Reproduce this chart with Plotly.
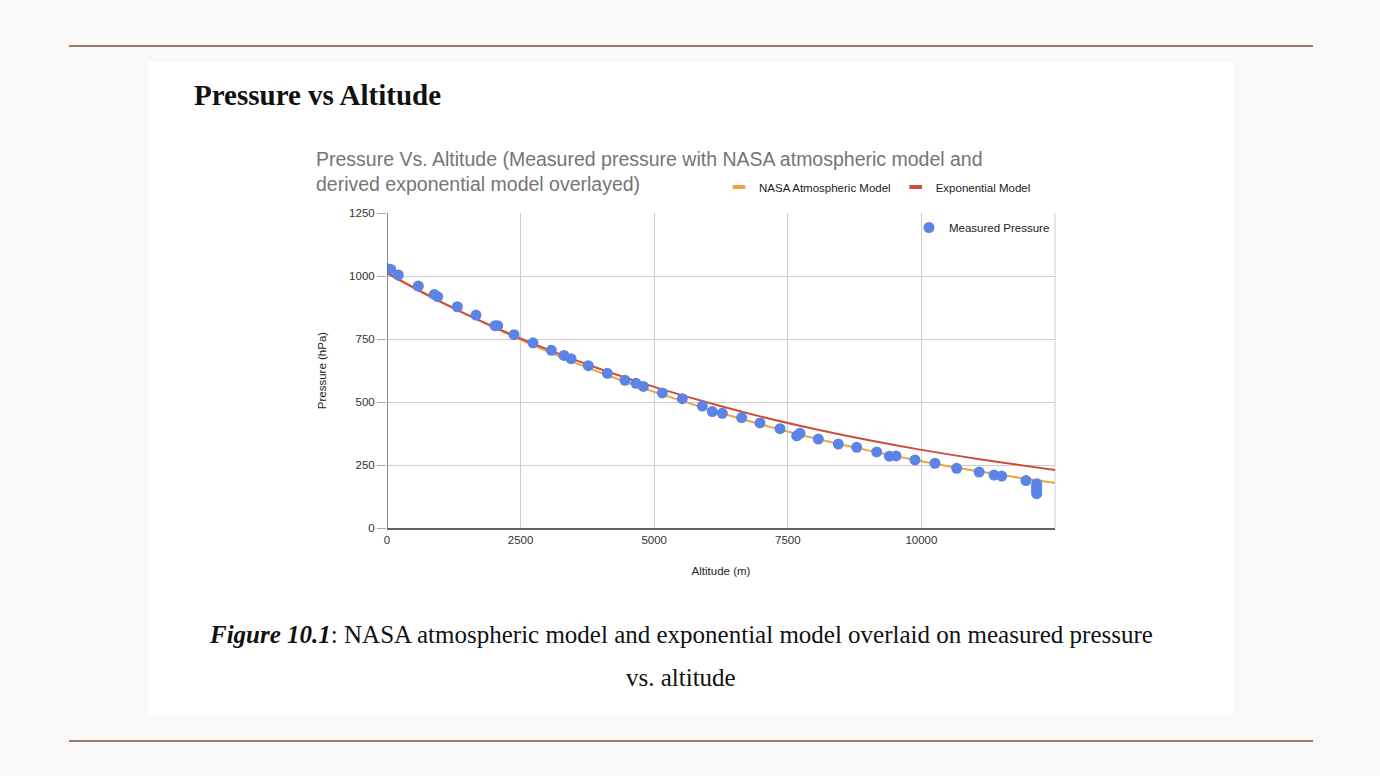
import plotly.graph_objects as go

# ---------------- data ----------------
altitude_m = [-40, 20, 70, 212, 586, 885, 948, 1316, 1665, 2021, 2071, 2377, 2732, 3075,
              3312, 3443, 3767, 4123, 4454, 4660, 4797, 5152, 5526, 5901, 6088, 6275,
              6637, 6980, 7354, 7667, 7728, 8071, 8445, 8789, 9163, 9400, 9525, 9880,
              10254, 10660, 11080, 11359, 11503, 11957, 12158, 12158, 12158, 12158,
              12158, 12158]
pressure_hpa = [1026, 1028, 1026, 1004, 960, 927, 918, 878, 845, 803, 803, 767, 735, 705,
                685, 672, 644, 614, 586, 574, 562, 536, 513, 484, 462, 455,
                438, 417, 394, 366, 376, 353, 333, 320, 302, 285, 286, 270,
                257, 237, 222, 210, 206, 188, 176, 168, 160, 152, 144, 136]

model_alt = [0, 1000, 2000, 3000, 4000, 5000, 6000, 7000, 8000, 9000, 10000, 11000,
             12000, 12500]
nasa_model = [1013, 899, 795, 701, 616, 540, 472, 411, 356, 308, 265, 227, 194, 179]
exp_model = [1010, 897, 798, 709, 630, 560, 498, 442, 393, 349, 310, 276, 245, 230]

x_ticks = [0, 2500, 5000, 7500, 10000]
x_tick_text = ["0", "2500", "5000", "7500", "10000"]
y_ticks = [0, 250, 500, 750, 1000, 1250]

# ---------------- layout helpers ----------------
FW, FH = 1380, 776
L, R, T, B = 387, 1055, 213, 528
W, H = R - L, B - T


def px(x):
    return (x - L) / W


def py(y):
    return (B - y) / H


BLUE = "#5b84e6"
ORANGE = "#eba443"
RED = "#cc4e3c"
PAGE_BG = "#f9f9f7"

fig = go.Figure()
# model curves (legend shown via swatch entries below)
fig.add_trace(go.Scatter(x=model_alt, y=nasa_model, mode="lines", name="NASA Atmospheric Model",
                         line=dict(color=ORANGE, width=2, shape="spline"), showlegend=False,
                         legendgroup="nasa"))
fig.add_trace(go.Scatter(x=model_alt, y=exp_model, mode="lines", name="Exponential Model",
                         line=dict(color=RED, width=2, shape="spline"), showlegend=False,
                         legendgroup="exp"))
# legend swatches (short thick dashes, like the reference legend)
fig.add_trace(go.Scatter(x=[None], y=[None], mode="markers", name="NASA Atmospheric Model",
                         marker=dict(symbol="line-ew", size=9, line=dict(color=ORANGE, width=4)),
                         legend="legend", legendgroup="nasa"))
fig.add_trace(go.Scatter(x=[None], y=[None], mode="markers", name="Exponential Model",
                         marker=dict(symbol="line-ew", size=9, line=dict(color=RED, width=4)),
                         legend="legend", legendgroup="exp"))
fig.add_trace(go.Scatter(x=altitude_m, y=pressure_hpa, mode="markers", name="Measured Pressure",
                         marker=dict(color=BLUE, size=11), legend="legend2"))

shapes = [
    dict(type="rect", xref="paper", yref="paper", x0=px(148), x1=px(1233), y0=py(715), y1=py(62),
         fillcolor="white", line=dict(width=0), layer="below"),
    dict(type="line", xref="paper", yref="paper", x0=px(69), x1=px(1313), y0=py(46), y1=py(46),
         line=dict(color="#9a7d68", width=2)),
    dict(type="line", xref="paper", yref="paper", x0=px(69), x1=px(1313), y0=py(741), y1=py(741),
         line=dict(color="#9a7d68", width=2)),
    dict(type="line", xref="paper", yref="paper", x0=1, x1=1, y0=0, y1=1,
         line=dict(color="#cccccc", width=1), layer="below"),
]

annotations = [
    dict(text="<b>Pressure vs Altitude</b>", xref="paper", yref="paper", x=px(192), y=py(95),
         xanchor="left", yanchor="middle", showarrow=False,
         font=dict(family="Liberation Serif", size=29, color="#111111")),
    dict(text="<b><i>Figure 10.1</i></b>: NASA atmospheric model and exponential model overlaid on measured pressure",
         xref="paper", yref="paper", x=px(681), y=py(634), xanchor="center", yanchor="middle",
         showarrow=False, font=dict(family="Liberation Serif", size=25, color="#111111")),
    dict(text="vs. altitude", xref="paper", yref="paper", x=px(681), y=py(677), xanchor="center",
         yanchor="middle", showarrow=False,
         font=dict(family="Liberation Serif", size=25, color="#111111")),
]

fig.update_layout(
    width=FW, height=FH,
    margin=dict(l=L, r=FW - R, t=T, b=FH - B, autoexpand=False),
    paper_bgcolor=PAGE_BG,
    plot_bgcolor="white",
    font=dict(family="Liberation Sans, Arial", size=11.5, color="#333333"),
    title=dict(text="Pressure Vs. Altitude (Measured pressure with NASA atmospheric model and<br>derived exponential model overlayed)",
               x=316 / FW, xref="container", xanchor="left", y=1 - 166 / FH, yref="container",
               yanchor="top",
               font=dict(family="Liberation Sans, Arial", size=19.5, color="#757575")),
    xaxis=dict(range=[0, 12500], tickvals=x_ticks, ticktext=x_tick_text, showgrid=True,
               gridcolor="#cccccc", gridwidth=1, zeroline=False, showline=True,
               linecolor="#666666", linewidth=1.5,
               ticks="", tickfont=dict(size=11.5, color="#333333"),
               title=dict(text="Altitude (m)", font=dict(size=11.5, color="#222222"), standoff=22)),
    yaxis=dict(range=[0, 1250], tickvals=y_ticks, showgrid=True, gridcolor="#cccccc",
               gridwidth=1, zeroline=False, showline=False,
               ticks="outside", ticklen=9, tickcolor="#aaaaaa",
               tickfont=dict(size=11.5, color="#333333"),
               title=dict(text="Pressure (hPa)", font=dict(size=11.5, color="#222222"), standoff=20)),
    legend=dict(orientation="h", x=px(719), y=py(187), xanchor="left", yanchor="middle",
                bgcolor="rgba(0,0,0,0)", font=dict(size=11.5, color="#222222"), itemwidth=30,
                tracegroupgap=0),
    legend2=dict(x=1, y=py(213), xanchor="right", yanchor="top", bgcolor="rgba(0,0,0,0)",
                 font=dict(size=11.5, color="#222222")),
    shapes=shapes,
    annotations=annotations,
)

# left axis line at x = 0
fig.add_shape(type="line", xref="x", yref="paper", x0=0, x1=0, y0=0, y1=1,
              line=dict(color="#666666", width=1.5))

fig.write_html(
    "out.html",
    config={"displayModeBar": False},
    post_script="document.body.style.margin='0';document.body.style.background='" + PAGE_BG + "';"
                "document.body.style.overflow='hidden';",
)
